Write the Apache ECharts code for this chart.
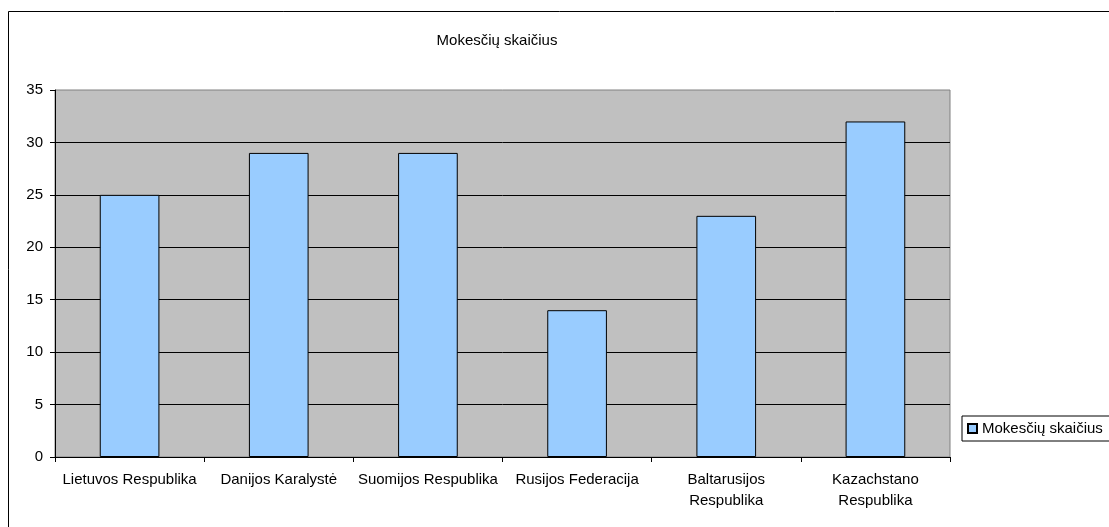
<!DOCTYPE html>
<html>
<head>
<meta charset="utf-8">
<script src="https://cdn.jsdelivr.net/npm/echarts@6/dist/echarts.min.js"></script>
<style>html,body{margin:0;padding:0;background:#fff;}#c{width:1109px;height:527px;}</style>
</head>
<body>
<div id="c"></div>
<script>
const categories = ['Lietuvos Respublika', 'Danijos Karalystė', 'Suomijos Respublika', 'Rusijos Federacija', 'Baltarusijos\nRespublika', 'Kazachstano\nRespublika'];
const values = [25, 29, 29, 14, 23, 32];
const seriesName = 'Mokesčių skaičius';
const titleText = 'Mokesčių skaičius';

const FONT = 'Liberation Sans, Arial, sans-serif';
const chart = echarts.init(document.getElementById('c'), null, {renderer: 'canvas'});
chart.setOption({
  animation: false,
  backgroundColor: '#ffffff',
  textStyle: {fontFamily: FONT},
  title: {
    text: titleText, left: 492, top: 28, textAlign: 'center',
    textStyle: {fontSize: 15, fontWeight: 'normal', color: '#000', fontFamily: FONT}
  },
  graphic: [{
    type: 'rect', silent: true, z: -1,
    shape: {x: 8.5, y: 11.5, width: 1300, height: 700},
    style: {fill: 'none', stroke: '#000', lineWidth: 1}
  }],
  legend: {
    left: 962, top: 416, orient: 'vertical',
    data: [seriesName],
    icon: 'rect', itemWidth: 9, itemHeight: 9, itemGap: 0,
    padding: [5, 20, 5, 5],
    borderColor: '#000', borderWidth: 1, backgroundColor: '#fff',
    textStyle: {fontSize: 15, color: '#000', fontFamily: FONT, padding: [0, 0, 0, 0]}
  },
  grid: {
    left: 55, top: 90, width: 895, height: 367,
    show: true, backgroundColor: '#C0C0C0', borderColor: '#808080', borderWidth: 1
  },
  xAxis: {
    type: 'category', data: categories,
    axisLine: {show: true, lineStyle: {color: '#000', width: 1}},
    axisTick: {show: true, alignWithLabel: false, length: 5, lineStyle: {color: '#000'}},
    axisLabel: {interval: 0, color: '#000', fontSize: 15, margin: 12, lineHeight: 21, fontFamily: FONT}
  },
  yAxis: {
    type: 'value', min: 0, max: 35, interval: 5,
    axisLine: {show: true, lineStyle: {color: '#000', width: 1}},
    axisTick: {show: true, length: 5, lineStyle: {color: '#000'}},
    axisLabel: {color: '#000', fontSize: 15, margin: 12, fontFamily: FONT},
    splitLine: {show: true, showMaxLine: false, lineStyle: {color: '#000', width: 1}}
  },
  series: [{
    name: seriesName, type: 'bar', data: values,
    barWidth: '40%',
    itemStyle: {color: '#99CCFF', borderColor: '#000', borderWidth: 1}
  }]
});
</script>
</body>
</html>
